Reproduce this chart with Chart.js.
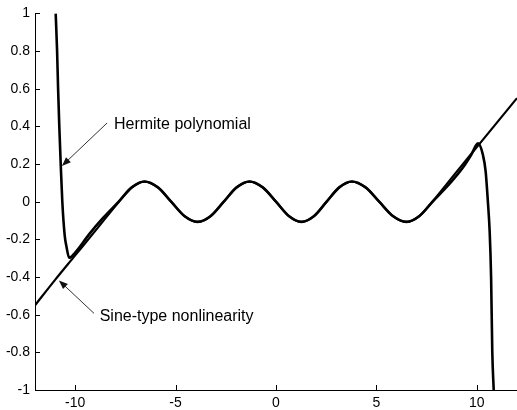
<!DOCTYPE html>
<html>
<head>
<meta charset="utf-8">
<script src="https://cdn.jsdelivr.net/npm/chart.js@4.4.0/dist/chart.umd.min.js"></script>
<style>
  html, body { margin: 0; padding: 0; background: #fff; }
  canvas { display: block; }
</style>
</head>
<body>
<canvas id="myChart" width="517" height="410"></canvas>
<script>
// sine-type nonlinearity
const xSine = [-12, -11, -10, -9, -7.82, -7.18, -6.55, -5.88, -5.22, -4.56, -3.9, -3.25, -2.6, -1.96, -1.32, -0.66, 0,
  0.64, 1.27, 1.9, 2.52, 3.15, 3.78, 4.46, 5.14, 5.82, 6.5, 7.14, 7.78, 9, 10, 11, 12];
const ySine = [-0.55, -0.415, -0.285, -0.155, 0, 0.076, 0.107, 0.076, 0, -0.076, -0.107, -0.076, 0, 0.076, 0.107, 0.076, 0,
  -0.076, -0.107, -0.076, 0, 0.076, 0.107, 0.076, 0, -0.076, -0.107, -0.076, 0, 0.16, 0.29, 0.42, 0.55];

// Hermite polynomial fit
const xHermite = [-10.97, -10.9, -10.85, -10.79, -10.72, -10.64, -10.52, -10.43, -10.3, -10.0, -9.3, -8.6,
  -7.82, -7.18, -6.55, -5.88, -5.22, -4.56, -3.9, -3.25, -2.6, -1.96, -1.32, -0.66, 0,
  0.64, 1.27, 1.9, 2.52, 3.15, 3.78, 4.46, 5.14, 5.82, 6.5, 7.14, 7.78,
  8.6, 9.3, 9.7, 10.06, 10.3, 10.44, 10.55, 10.64, 10.71, 10.77, 10.84];
const yHermite = [1, 0.8, 0.6, 0.4, 0.2, 0, -0.18, -0.24, -0.298, -0.27, -0.172, -0.085,
  0.002, 0.076, 0.107, 0.076, 0, -0.076, -0.107, -0.076, 0, 0.076, 0.107, 0.076, 0,
  -0.076, -0.107, -0.076, 0, 0.076, 0.107, 0.076, 0, -0.076, -0.107, -0.076, -0.002,
  0.09, 0.18, 0.245, 0.31, 0.25, 0.16, 0.0, -0.16, -0.4, -0.8, -1];

const xTickValues = [-10, -5, 0, 5, 10];
const yTickValues = [-1, -0.8, -0.6, -0.4, -0.2, 0, 0.2, 0.4, 0.6, 0.8, 1];

const toPoints = (xs, ys) => xs.map((x, i) => ({ x: x, y: ys[i] }));

// labels with arrows, in data units
const notes = [
  { text: "Hermite polynomial", at: [-8.07, 0.407], from: [-8.41, 0.418], to: [-10.66, 0.19] },
  { text: "Sine-type nonlinearity", at: [-8.78, -0.608], from: [-9.06, -0.593], to: [-10.81, -0.418] },
];

const FONT = "'Liberation Sans', Arial, Helvetica, sans-serif";

const matlabBits = {
  id: "matlabBits",
  afterDatasetsDraw(chart) {
    const { ctx, chartArea, scales } = chart;
    ctx.save();
    // inward ticks
    ctx.strokeStyle = "#000";
    ctx.lineWidth = 1;
    ctx.beginPath();
    xTickValues.forEach((v) => {
      const px = Math.round(scales.x.getPixelForValue(v)) + 0.5;
      ctx.moveTo(px, chartArea.bottom);
      ctx.lineTo(px, chartArea.bottom - 5);
    });
    yTickValues.forEach((v) => {
      const py = Math.round(scales.y.getPixelForValue(v)) + 0.5;
      ctx.moveTo(chartArea.left, py);
      ctx.lineTo(chartArea.left + 5, py);
    });
    ctx.stroke();

    // annotations
    notes.forEach((n) => {
      const x0 = scales.x.getPixelForValue(n.from[0]);
      const y0 = scales.y.getPixelForValue(n.from[1]);
      const x1 = scales.x.getPixelForValue(n.to[0]);
      const y1 = scales.y.getPixelForValue(n.to[1]);
      const a = Math.atan2(y1 - y0, x1 - x0);
      const len = 9, w = 3.5;
      ctx.strokeStyle = "#333";
      ctx.fillStyle = "#111";
      ctx.lineWidth = 1;
      ctx.beginPath();
      ctx.moveTo(x0, y0);
      ctx.lineTo(x1 - Math.cos(a) * len * 0.8, y1 - Math.sin(a) * len * 0.8);
      ctx.stroke();
      ctx.beginPath();
      ctx.moveTo(x1, y1);
      ctx.lineTo(x1 - Math.cos(a) * len - Math.sin(a) * w, y1 - Math.sin(a) * len + Math.cos(a) * w);
      ctx.lineTo(x1 - Math.cos(a) * len + Math.sin(a) * w, y1 - Math.sin(a) * len - Math.cos(a) * w);
      ctx.closePath();
      ctx.fill();

      ctx.fillStyle = "#000";
      ctx.font = "16px " + FONT;
      ctx.textAlign = "left";
      ctx.textBaseline = "middle";
      ctx.fillText(n.text, scales.x.getPixelForValue(n.at[0]), scales.y.getPixelForValue(n.at[1]));
    });
    ctx.restore();
  },
};

new Chart(document.getElementById("myChart"), {
  type: "line",
  data: {
    datasets: [
      {
        label: "Sine-type nonlinearity",
        data: toPoints(xSine, ySine),
        borderColor: "#000",
        borderWidth: 2.2,
        pointRadius: 0,
        cubicInterpolationMode: "monotone",
      },
      {
        label: "Hermite polynomial",
        data: toPoints(xHermite, yHermite),
        borderColor: "#000",
        borderWidth: 2.6,
        pointRadius: 0,
        cubicInterpolationMode: "monotone",
      },
    ],
  },
  options: {
    responsive: false,
    animation: false,
    layout: { padding: { top: 12, right: 0, left: 0, bottom: 0 } },
    plugins: {
      legend: { display: false },
      tooltip: { enabled: false },
    },
    scales: {
      x: {
        type: "linear",
        min: -12,
        max: 12,
        grid: { display: false, drawTicks: false },
        border: { display: true, color: "#000", width: 1 },
        afterBuildTicks: (scale) => { scale.ticks = xTickValues.map((v) => ({ value: v })); },
        afterFit: (scale) => { scale.height = 20; },
        ticks: {
          color: "#000",
          padding: 5,
          maxRotation: 0,
          font: { family: FONT, size: 14 },
          callback: (v) => String(v),
        },
      },
      y: {
        min: -1,
        max: 1,
        grid: { display: false, drawTicks: false },
        border: { display: true, color: "#000", width: 1 },
        afterBuildTicks: (scale) => { scale.ticks = yTickValues.map((v) => ({ value: v })); },
        afterFit: (scale) => { scale.width = 35; },
        ticks: {
          color: "#000",
          padding: 5,
          font: { family: FONT, size: 14 },
          callback: (v) => String(v),
        },
      },
    },
  },
  plugins: [matlabBits],
});
</script>
</body>
</html>
